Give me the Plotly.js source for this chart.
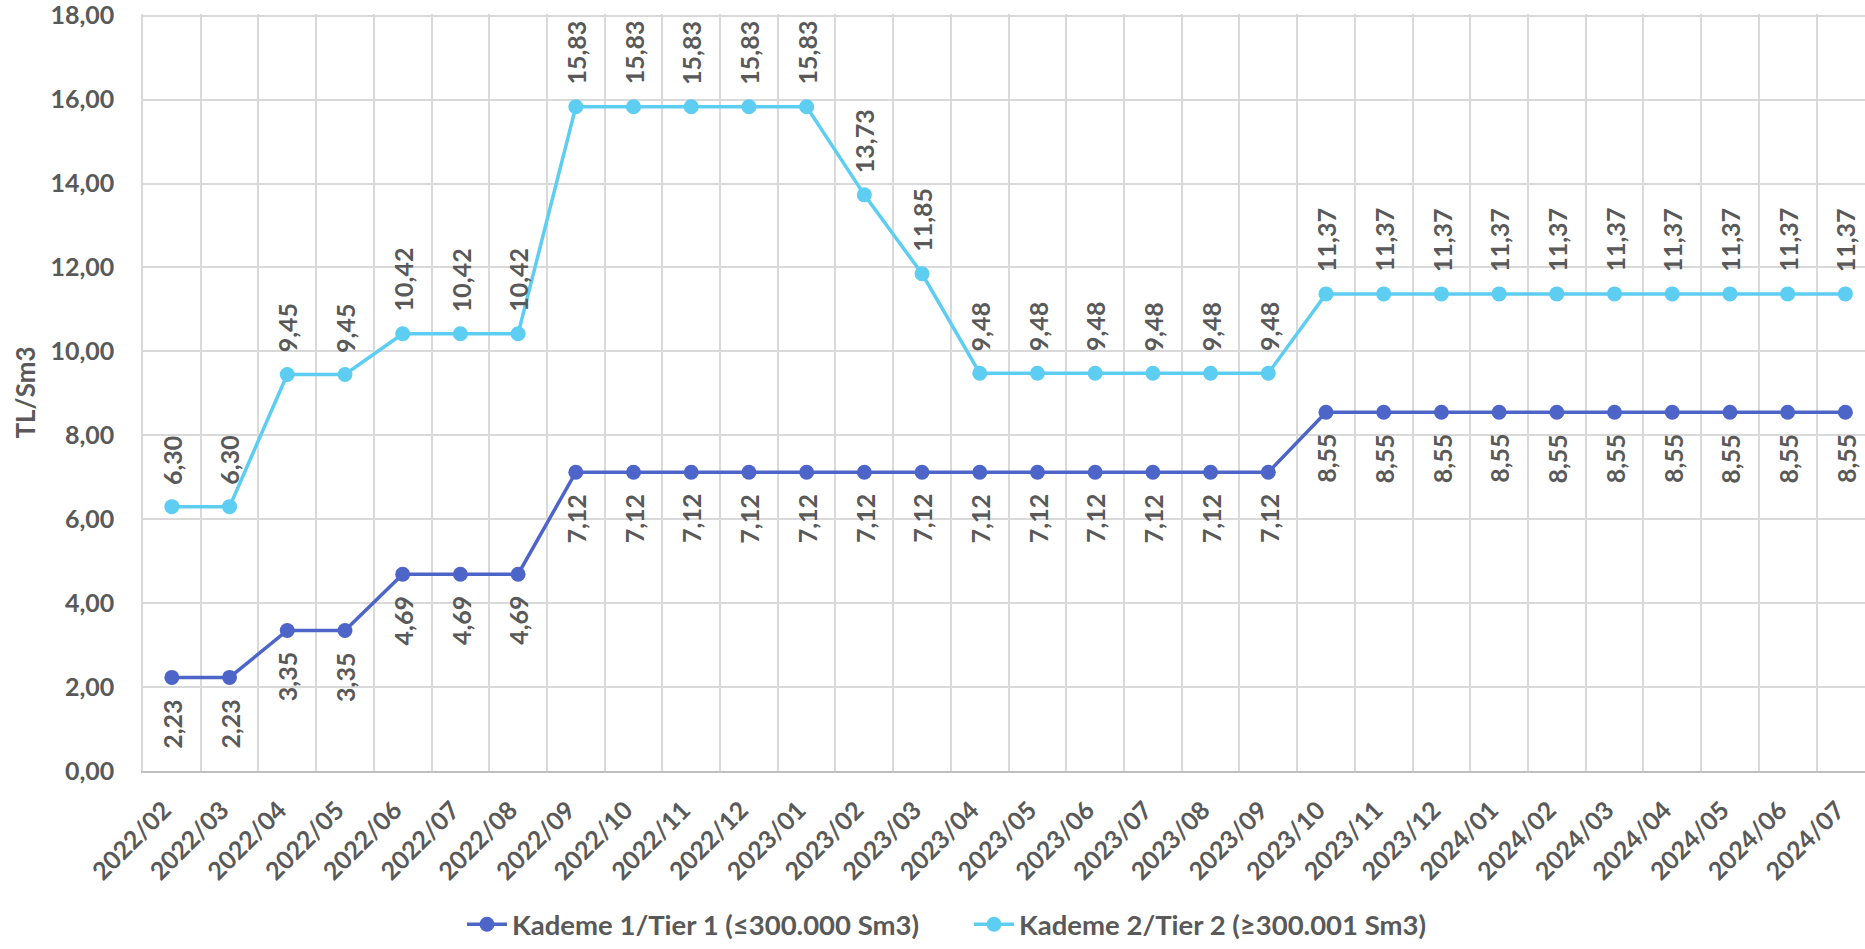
<!DOCTYPE html>
<html>
<head>
<meta charset="utf-8">
<script src="https://cdn.plot.ly/plotly-3.0.1.min.js"></script>
<style>html,body{margin:0;padding:0;background:#fff;overflow:hidden}</style>
</head>
<body>
<div id="chart" style="width:1865px;height:949px"></div>
<script>
const months = ['2022/02','2022/03','2022/04','2022/05','2022/06','2022/07','2022/08','2022/09','2022/10','2022/11','2022/12','2023/01','2023/02','2023/03','2023/04','2023/05','2023/06','2023/07','2023/08','2023/09','2023/10','2023/11','2023/12','2024/01','2024/02','2024/03','2024/04','2024/05','2024/06','2024/07'];
const tier1 = [2.23,2.23,3.35,3.35,4.69,4.69,4.69,7.12,7.12,7.12,7.12,7.12,7.12,7.12,7.12,7.12,7.12,7.12,7.12,7.12,8.55,8.55,8.55,8.55,8.55,8.55,8.55,8.55,8.55,8.55];
const tier2 = [6.30,6.30,9.45,9.45,10.42,10.42,10.42,15.83,15.83,15.83,15.83,15.83,13.73,11.85,9.48,9.48,9.48,9.48,9.48,9.48,11.37,11.37,11.37,11.37,11.37,11.37,11.37,11.37,11.37,11.37];
const yTickVals = [0,2,4,6,8,10,12,14,16,18];
const name1 = 'Kademe 1/Tier 1 (≤300.000 Sm3)';
const name2 = 'Kademe 2/Tier 2 (≥300.001 Sm3)';
const yTitle = 'TL/Sm3';

const c1 = '#4D65C8', c2 = '#5DCDF2';
const txt = '#595959';
const FONT = 'Lato, Carlito, Calibri, sans-serif';
const fmt = v => v.toFixed(2).replace('.', ',');

const traces = [
  {x: months, y: tier1, name: name1, type: 'scatter', mode: 'lines+markers',
   line: {color: c1, width: 3.5}, marker: {color: c1, size: 15}, hoverinfo: 'x+y'},
  {x: months, y: tier2, name: name2, type: 'scatter', mode: 'lines+markers',
   line: {color: c2, width: 3.5}, marker: {color: c2, size: 15}, hoverinfo: 'x+y'}
];

const labelFont = {family: FONT, size: 25, color: txt, weight: 700};
const annotations = [];
months.forEach((m, i) => {
  annotations.push({x: m, y: tier1[i], xref: 'x', yref: 'y', text: fmt(tier1[i]),
    textangle: -90, showarrow: false, yanchor: 'top', xanchor: 'center', yshift: -20, font: labelFont});
  annotations.push({x: m, y: tier2[i], xref: 'x', yref: 'y', text: fmt(tier2[i]),
    textangle: -90, showarrow: false, yanchor: 'bottom', xanchor: 'center', yshift: 20, font: labelFont});
});
annotations.push({xref: 'paper', yref: 'paper', x: (24 - 143) / 1722, y: 0.5,
  text: yTitle, textangle: -90, showarrow: false, xanchor: 'center', yanchor: 'middle',
  font: {family: FONT, size: 26, color: txt, weight: 700}});

const layout = {
  width: 1865, height: 949,
  margin: {l: 143, r: 0, t: 14, b: 175, pad: 0},
  paper_bgcolor: '#fff', plot_bgcolor: '#fff',
  separators: ',.',
  font: {family: FONT, color: txt},
  showlegend: true,
  legend: {orientation: 'h', x: (462 - 143) / 1722, xanchor: 'left', y: (774 - 928) / 760, yanchor: 'middle',
    font: {family: FONT, size: 27.5, color: txt, weight: 700}, itemwidth: 40,
    entrywidth: 452, entrywidthmode: 'pixels', bgcolor: 'rgba(0,0,0,0)'},
  xaxis: {type: 'category', range: [-0.5, 29.34], tickson: 'boundaries', ticks: '',
    showgrid: true, gridcolor: '#D9D9D9', gridwidth: 1.5,
    showline: true, linecolor: '#BFBFBF', linewidth: 1.5,
    tickangle: -45, tickfont: {family: FONT, size: 25, color: txt, weight: 700},
    ticklabelstandoff: 13, ticklabelshift: -8, fixedrange: true},
  yaxis: {range: [0, 18.04], tickmode: 'array', tickvals: yTickVals, tickformat: '.2f', ticks: '',
    showgrid: true, gridcolor: '#D9D9D9', gridwidth: 1.5, zeroline: false,
    showline: true, linecolor: '#D9D9D9', linewidth: 1.5, ticklabeloverflow: 'allow',
    tickfont: {family: FONT, size: 25, color: txt, weight: 700},
    ticklabelstandoff: 22, fixedrange: true},
  annotations: annotations
};

Plotly.newPlot('chart', traces, layout, {displayModeBar: false, responsive: false});
</script>
</body>
</html>
